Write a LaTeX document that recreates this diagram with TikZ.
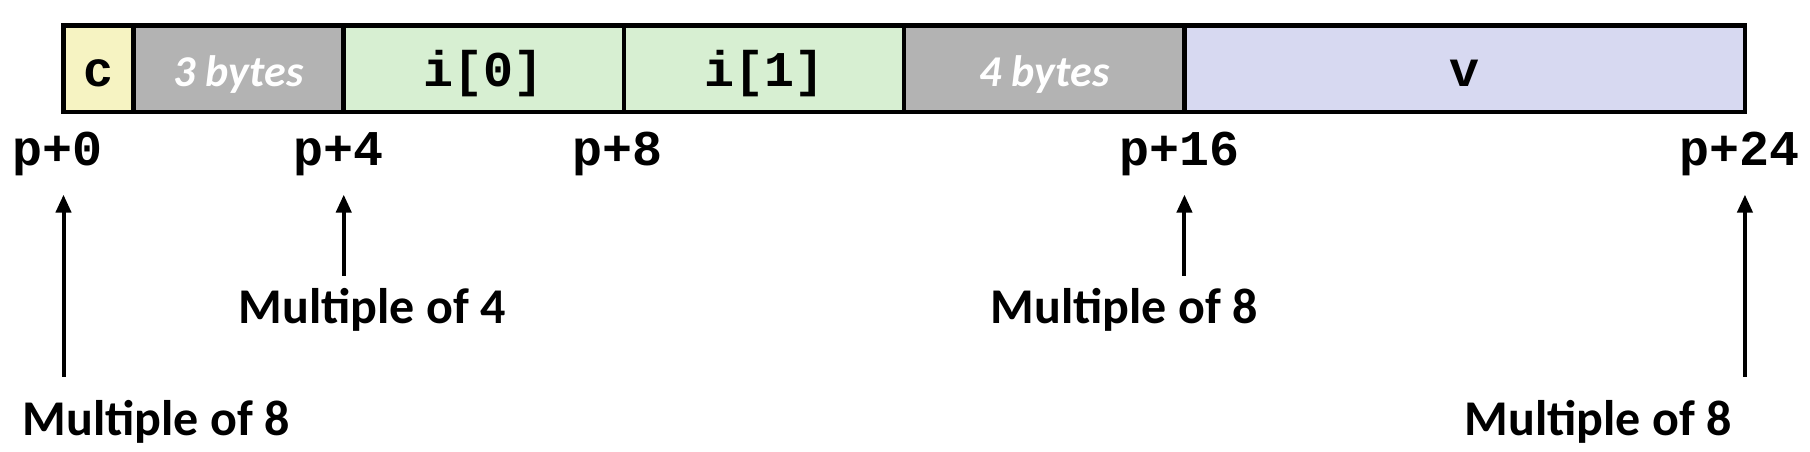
\documentclass[tikz,border=0pt]{standalone}
\usepackage{fontspec}
\setmonofont{Liberation Mono}
\newfontfamily\calibri{Carlito}
\usetikzlibrary{arrows.meta}
\usetikzlibrary{positioning}

\definecolor{cyellow}{RGB}{246,243,194}
\definecolor{padgray}{RGB}{179,179,179}
\definecolor{igreen}{RGB}{215,239,210}
\definecolor{vblue}{RGB}{215,217,241}

\begin{document}
\begin{tikzpicture}
    [   x = 1pt, y = -1pt
    ,   > = {Triangle[width=15pt,length=18pt]}
    ,   cell/.style = {draw, line width = 4.5pt, inner sep = 0pt, outer sep = 0pt,
                       minimum height = 86.6pt, text height = 40pt, text depth = 3.4pt}
    ,   code/.style = {font = \fontsize{50}{60}\selectfont\ttfamily\bfseries}
    ,   pad/.style = {cell, fill = padgray, text = white,
                      font = \fontsize{44}{52}\selectfont\calibri\bfseries\itshape}
    ,   addr/.style = {code, anchor = base, inner sep = 0pt}
    ,   note/.style = {font = \fontsize{50}{60}\selectfont\calibri\bfseries,
                       anchor = base, inner sep = 0pt}
    ,   arr/.style = {->, line width = 4pt}
    ]
    \useasboundingbox (0,0) rectangle (1810,452);

    % the struct, one cell per field
    \node[cell, code, fill = cyellow, minimum width = 70.06pt, anchor = north west]
        (C) at (63.5,25.4) {c};
    \node[pad, minimum width = 210.18pt, right = 0pt of C] (Pad3) {3 bytes};
    \node[cell, code, fill = igreen, minimum width = 280.24pt, right = 0pt of Pad3] (I0) {i[0]};
    \node[cell, code, fill = igreen, minimum width = 280.24pt, right = 0pt of I0] (I1) {i[1]};
    \node[pad, minimum width = 280.24pt, right = 0pt of I1] (Pad4) {4 bytes};
    \node[cell, code, fill = vblue, minimum width = 560.48pt, right = 0pt of Pad4] (V) {v};

    % offsets
    \node[addr] (P0) at (58,165) {p+0};
    \node[addr] (P4) at (339,165) {p+4};
    \node[addr] (P8) at (618,165) {p+8};
    \node[addr] (P16) at (1179,165) {p+16};
    \node[addr] (P24) at (1739,165) {p+24};

    \node[note] (M4) at (372,323) {Multiple of 4};
    \node[note] (M8) at (1124,323) {Multiple of 8};
    \node[note] (B0) at (156,435) {Multiple of 8};
    \node[note] (B24) at (1598,435) {Multiple of 8};

    \draw[arr, shorten <= 23pt, shorten >= 19pt] (B0.north -| C.west) -- (P0.south -| C.west);
    \draw[arr, shorten <= 12pt, shorten >= 19pt] (M4.north -| Pad3.east) -- (P4.south -| Pad3.east);
    \draw[arr, shorten <= 12pt, shorten >= 19pt] (M8.north -| Pad4.east) -- (P16.south -| Pad4.east);
    \draw[arr, shorten <= 23pt, shorten >= 19pt] (B24.north -| V.east) -- (P24.south -| V.east);
\end{tikzpicture}
\end{document}
